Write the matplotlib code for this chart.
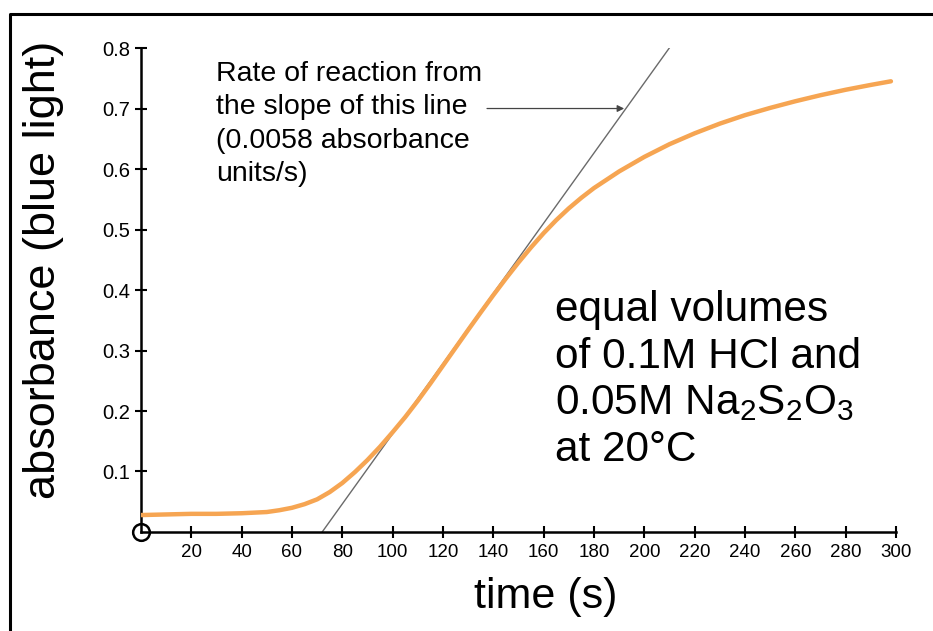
import numpy as np
import matplotlib.pyplot as plt
from matplotlib.lines import Line2D

plt.rcParams['font.family'] = ['Liberation Sans', 'DejaVu Sans']
plt.rcParams['mathtext.fontset'] = 'custom'
plt.rcParams['mathtext.rm'] = 'Liberation Sans'

# absorbance readings
t = [0, 10, 20, 30, 40, 50, 55, 60, 65, 70, 75, 80, 85, 90, 95, 100, 105,
     110, 115, 120, 125, 130, 135, 140, 145, 150, 155, 160, 165, 170, 175,
     180, 190, 200, 210, 220, 230, 240, 250, 260, 270, 280, 290, 298]
A = [0.028, 0.029, 0.030, 0.030, 0.031, 0.033, 0.036, 0.040, 0.046, 0.054,
     0.066, 0.081, 0.099, 0.119, 0.141, 0.165, 0.190, 0.217, 0.2455, 0.275,
     0.3045, 0.334, 0.363, 0.3915, 0.419, 0.4455, 0.4705, 0.494, 0.5155,
     0.535, 0.5525, 0.5685, 0.596, 0.620, 0.641, 0.659, 0.675, 0.689, 0.701,
     0.712, 0.722, 0.731, 0.739, 0.745]

# tangent line: slope 0.0058 /s, crosses zero at 72 s
slope = 0.0058
t0 = 72
t_tan = [t0, t0 + 0.8 / slope]
A_tan = [slope * (x - t0) for x in t_tan]

xticks = list(range(20, 301, 20))
yticks = [0.1, 0.2, 0.3, 0.4, 0.5, 0.6, 0.7, 0.8]

fig = plt.figure(figsize=(9.33, 6.31), dpi=100)
ax = fig.add_axes([0.1511, 0.1569, 0.8092, 0.7670])

ax.plot(t, A, color='#f6a552', lw=3.2, solid_capstyle='round', zorder=3)
ax.plot(t_tan, A_tan, color='#6a6a6a', lw=1.0, zorder=2)

ax.set_xlim(0, 300)
ax.set_ylim(0, 0.8)
ax.set_xticks(xticks)
ax.set_yticks(yticks)
ax.set_yticklabels([f'{v:.1f}' for v in yticks])
ax.tick_params(direction='inout', length=9, width=1.5, pad=4)
ax.tick_params(axis='x', labelsize=13.5)
ax.tick_params(axis='y', labelsize=14.5, pad=3)
for s in ['top', 'right']:
    ax.spines[s].set_visible(False)
for s in ['left', 'bottom']:
    ax.spines[s].set_linewidth(1.8)
ax.plot([0], [0], 'o', ms=12, mfc='none', mec='black', mew=1.8,
        clip_on=False, zorder=5)

ax.set_xlabel('time (s)', fontsize=31)
ax.xaxis.set_label_coords(0.536, -0.093)
ax.set_ylabel('absorbance (blue light)', fontsize=32.5)
ax.yaxis.set_label_coords(-0.102, 0.541)

ax.annotate('', xy=(192, 0.70), xytext=(137.5, 0.70),
            arrowprops=dict(arrowstyle='-|>', color='#444444', lw=0.9,
                            mutation_scale=10, shrinkA=0, shrinkB=0))
# va='baseline' pins the last line's baseline
ax.text(29.8, 0.580, 'Rate of reaction from\nthe slope of this line\n'
        '(0.0058 absorbance\nunits/s)', fontsize=20.5, va='baseline',
        ha='left', linespacing=1.37)
ax.text(164.5, 0.117, 'equal volumes\nof 0.1M HCl and\n'
        r'0.05M Na$\mathregular{_2}$S$\mathregular{_2}$O$\mathregular{_3}$'
        '\nat 20\u00b0C', fontsize=30.5, va='baseline', ha='left',
        linespacing=1.22)

# frame around the picture
fig.add_artist(Line2D([10 / 933, 10 / 933, 1.0], [0.0, 1 - 14 / 631, 1 - 14 / 631],
                      transform=fig.transFigure, color='black', lw=2.2))

fig.savefig('out.png', dpi=100)
